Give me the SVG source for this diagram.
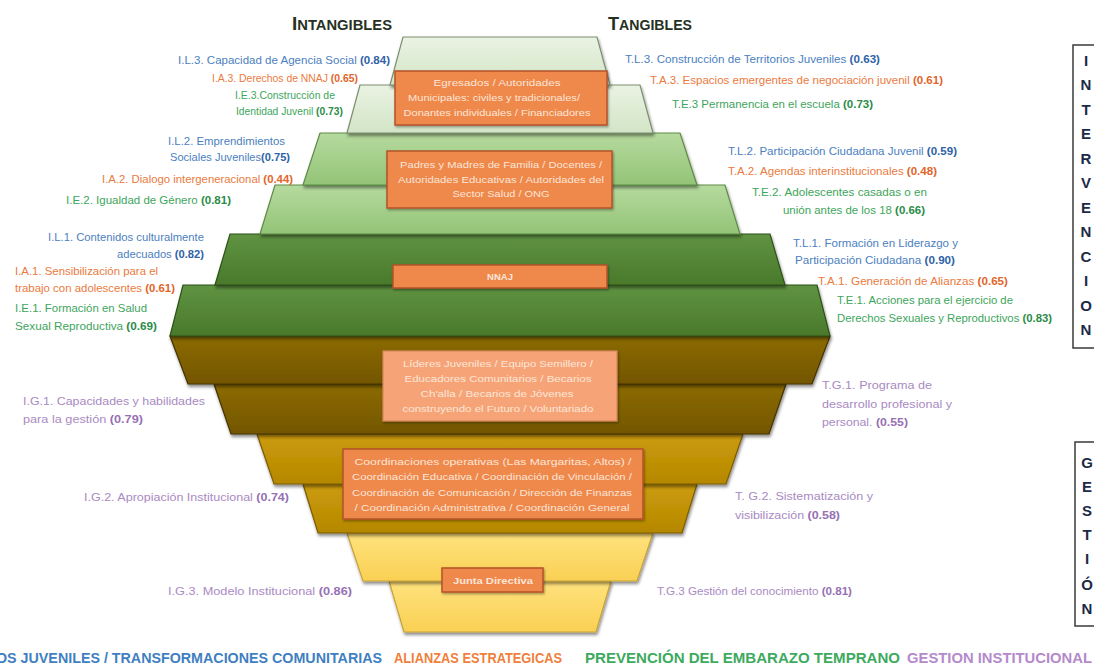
<svg xmlns="http://www.w3.org/2000/svg" width="1094" height="667" viewBox="0 0 1094 667">
<defs>
<linearGradient id="g1" x1="0" y1="0" x2="0" y2="1"><stop offset="0" stop-color="#EAF3E3"/><stop offset="1" stop-color="#D2E4C6"/></linearGradient>
<linearGradient id="g2" x1="0" y1="0" x2="0" y2="1"><stop offset="0" stop-color="#B6DA9E"/><stop offset="1" stop-color="#93C477"/></linearGradient>
<linearGradient id="g3" x1="0" y1="0" x2="0" y2="1"><stop offset="0" stop-color="#5F9342"/><stop offset="1" stop-color="#4A792B"/></linearGradient>
<linearGradient id="g4" x1="0" y1="0" x2="0" y2="1"><stop offset="0" stop-color="#8C6B06"/><stop offset="1" stop-color="#735600"/></linearGradient>
<linearGradient id="g5" x1="0" y1="0" x2="0" y2="1"><stop offset="0" stop-color="#CC9C0C"/><stop offset="1" stop-color="#B58700"/></linearGradient>
<linearGradient id="g6" x1="0" y1="0" x2="0" y2="1"><stop offset="0" stop-color="#FFE27E"/><stop offset="1" stop-color="#F9D053"/></linearGradient>
<filter id="sh" x="-10%" y="-20%" width="120%" height="150%"><feDropShadow dx="1" dy="2.5" stdDeviation="1.6" flood-color="#000" flood-opacity="0.45"/></filter>
<filter id="bsh" x="-10%" y="-20%" width="120%" height="150%"><feDropShadow dx="1" dy="1.5" stdDeviation="1" flood-color="#000" flood-opacity="0.35"/></filter>
<style>
.t1{fill:url(#g1);stroke:#7D8F70;stroke-width:1.2}
.t2{fill:url(#g2);stroke:#5F8B46;stroke-width:1.2}
.t3{fill:url(#g3);stroke:#2E5118;stroke-width:1.2}
.t4{fill:url(#g4);stroke:#453300;stroke-width:1.2}
.t5{fill:url(#g5);stroke:#7A5C00;stroke-width:1.2}
.t6{fill:url(#g6);stroke:#C7A23A;stroke-width:1.2}
.lay{filter:url(#sh)}
.box{fill:#EF884C;stroke:#B5532A;stroke-width:1.5;filter:url(#bsh)}
.boxl{fill:#F6A477;stroke:#D9875A;stroke-width:1.2;filter:url(#bsh)}
.bt{font-family:"Liberation Sans",Arial,sans-serif;font-size:9.5px;fill:#FCE6D8;text-anchor:middle}
.lbl{font-family:"Liberation Sans",Arial,sans-serif;font-size:10.5px}
.b{font-weight:bold}
.blue{fill:#4C80C0}.blue .b{fill:#2F62A6}
.org{fill:#EA7A40}.org .b{fill:#E2652A}
.grn{fill:#3DA55C}.grn .b{fill:#2B8C47}
.pur{fill:#A98AC2}.pur .b{fill:#9670B4}
.hdr{font-family:"Liberation Sans",Arial,sans-serif;font-weight:bold;fill:#263022}
.vt{font-family:"Liberation Sans",Arial,sans-serif;font-weight:bold;font-size:15px;fill:#1C2A47;text-anchor:middle}
.leg{font-family:"Liberation Sans Narrow","Liberation Sans",Arial,sans-serif;font-weight:bold;font-size:15px}
</style>
</defs>
<rect width="1094" height="667" fill="#FFFFFF"/>

<g id="pyramid">
<polygon id="layer6b" class="lay t6" points="389,581 611,581 596,632 404,632"/>
<polygon id="layer6a" class="lay t6" points="347,533 653,533 637,581 363,581"/>
<polygon id="layer5b" class="lay t5" points="303,484 697,484 682,533 318,533"/>
<polygon id="layer5a" class="lay t5" points="257,434 743,434 726,484 274,484"/>
<polygon id="layer4b" class="lay t4" points="214,384 786,384 769,434 231,434"/>
<polygon id="layer4a" class="lay t4" points="170,336 830,336 812,384 188,384"/>
<polygon id="layer3b" class="lay t3" points="183,285 817,285 830,336 170,336"/>
<polygon id="layer3a" class="lay t3" points="230,234 770,234 785,285 215,285"/>
<polygon id="layer2b" class="lay t2" points="275,185 725,185 740,234 260,234"/>
<polygon id="layer2a" class="lay t2" points="320,133 680,133 697,185 303,185"/>
<polygon id="layer1b" class="lay t1" points="360,85 640,85 653,133 347,133"/>
<polygon id="layer1a" class="lay t1" points="403,37 597,37 610,85 390,85"/>
</g>

<g id="box-egresados">
<rect class="box" x="395" y="71" width="212" height="54"/>
<text class="bt" x="497" y="86" textLength="127" lengthAdjust="spacingAndGlyphs">Egresados / Autoridades</text>
<text class="bt" x="494" y="101" textLength="172" lengthAdjust="spacingAndGlyphs">Municipales: civiles y tradicionales/</text>
<text class="bt" x="497" y="116" textLength="187" lengthAdjust="spacingAndGlyphs">Donantes individuales / Financiadores</text>
</g>
<g id="box-padres">
<rect class="box" x="387" y="151" width="225" height="57"/>
<text class="bt" x="501" y="168" textLength="202" lengthAdjust="spacingAndGlyphs">Padres y Madres de Familia / Docentes /</text>
<text class="bt" x="501" y="183" textLength="206" lengthAdjust="spacingAndGlyphs">Autoridades Educativas / Autoridades del</text>
<text class="bt" x="501" y="197" textLength="97" lengthAdjust="spacingAndGlyphs">Sector Salud / ONG</text>
</g>
<g id="box-nnaj">
<rect class="box" x="393" y="265" width="214" height="23"/>
<text class="bt b" x="500" y="280">NNAJ</text>
</g>
<g id="box-lideres">
<rect class="boxl" x="383" y="351" width="234" height="70"/>
<text class="bt" x="498" y="367" textLength="190" lengthAdjust="spacingAndGlyphs">Líderes Juveniles / Equipo Semillero /</text>
<text class="bt" x="498" y="382" textLength="187" lengthAdjust="spacingAndGlyphs">Educadores Comunitarios / Becarios</text>
<text class="bt" x="497" y="397" textLength="153" lengthAdjust="spacingAndGlyphs">Ch'alla / Becarios de Jóvenes</text>
<text class="bt" x="498" y="412" textLength="191" lengthAdjust="spacingAndGlyphs">construyendo el Futuro / Voluntariado</text>
</g>
<g id="box-coordinaciones">
<rect class="box" x="343" y="449" width="300" height="70"/>
<text class="bt" x="493" y="465" textLength="277" lengthAdjust="spacingAndGlyphs">Coordinaciones operativas (Las Margaritas, Altos) /</text>
<text class="bt" x="492" y="480" textLength="280" lengthAdjust="spacingAndGlyphs">Coordinación Educativa / Coordinación de Vinculación /</text>
<text class="bt" x="492" y="496" textLength="280" lengthAdjust="spacingAndGlyphs">Coordinación de Comunicación / Dirección de Finanzas</text>
<text class="bt" x="492" y="511" textLength="275" lengthAdjust="spacingAndGlyphs">/ Coordinación Administrativa / Coordinación General</text>
</g>
<g id="box-junta">
<rect class="box" x="442" y="568" width="101" height="24"/>
<text class="bt b" x="493" y="584" textLength="80" lengthAdjust="spacingAndGlyphs">Junta Directiva</text>
</g>

<g id="headers">
<text class="hdr" x="292" y="30" textLength="100" lengthAdjust="spacingAndGlyphs"><tspan font-size="18">I</tspan><tspan font-size="14">NTANGIBLES</tspan></text>
<text class="hdr" x="608" y="30" textLength="84" lengthAdjust="spacingAndGlyphs"><tspan font-size="18">T</tspan><tspan font-size="14">ANGIBLES</tspan></text>
</g>

<g id="labels-left">
<text class="lbl blue" x="178" y="64" textLength="212" lengthAdjust="spacingAndGlyphs">I.L.3. Capacidad de Agencia Social <tspan class="b">(0.84)</tspan></text>
<text class="lbl org" x="212" y="82" textLength="146" lengthAdjust="spacingAndGlyphs">I.A.3. Derechos de NNAJ <tspan class="b">(0.65)</tspan></text>
<text class="lbl grn" x="235" y="99" textLength="100" lengthAdjust="spacingAndGlyphs">I.E.3.Construcción de</text>
<text class="lbl grn" x="236" y="115" textLength="107" lengthAdjust="spacingAndGlyphs">Identidad Juvenil <tspan class="b">(0.73)</tspan></text>

<text class="lbl blue" x="168" y="145" textLength="117" lengthAdjust="spacingAndGlyphs">I.L.2. Emprendimientos</text>
<text class="lbl blue" x="170" y="161" textLength="120" lengthAdjust="spacingAndGlyphs">Sociales Juveniles<tspan class="b">(0.75)</tspan></text>
<text class="lbl org" x="102" y="183" textLength="191" lengthAdjust="spacingAndGlyphs">I.A.2. Dialogo intergeneracional <tspan class="b">(0.44)</tspan></text>
<text class="lbl grn" x="66" y="204" textLength="165" lengthAdjust="spacingAndGlyphs">I.E.2. Igualdad de Género <tspan class="b">(0.81)</tspan></text>

<text class="lbl blue" x="48" y="241" textLength="156" lengthAdjust="spacingAndGlyphs">I.L.1. Contenidos culturalmente</text>
<text class="lbl blue" x="117" y="258" textLength="87" lengthAdjust="spacingAndGlyphs">adecuados <tspan class="b">(0.82)</tspan></text>
<text class="lbl org" x="15" y="275" textLength="143" lengthAdjust="spacingAndGlyphs">I.A.1. Sensibilización para el</text>
<text class="lbl org" x="15" y="292" textLength="160" lengthAdjust="spacingAndGlyphs">trabajo con adolescentes <tspan class="b">(0.61)</tspan></text>
<text class="lbl grn" x="15" y="312" textLength="132" lengthAdjust="spacingAndGlyphs">I.E.1. Formación en Salud</text>
<text class="lbl grn" x="15" y="330" textLength="142" lengthAdjust="spacingAndGlyphs">Sexual Reproductiva <tspan class="b">(0.69)</tspan></text>

<text class="lbl pur" x="23" y="405" textLength="182" lengthAdjust="spacingAndGlyphs">I.G.1. Capacidades y habilidades</text>
<text class="lbl pur" x="23" y="423" textLength="120" lengthAdjust="spacingAndGlyphs">para la gestión <tspan class="b">(0.79)</tspan></text>
<text class="lbl pur" x="84" y="501" textLength="205" lengthAdjust="spacingAndGlyphs">I.G.2. Apropiación Institucional <tspan class="b">(0.74)</tspan></text>
<text class="lbl pur" x="168" y="595" textLength="184" lengthAdjust="spacingAndGlyphs">I.G.3. Modelo Institucional <tspan class="b">(0.86)</tspan></text>
</g>

<g id="labels-right">
<text class="lbl blue" x="625" y="63" textLength="255" lengthAdjust="spacingAndGlyphs">T.L.3. Construcción de Territorios Juveniles <tspan class="b">(0.63)</tspan></text>
<text class="lbl org" x="650" y="84" textLength="293" lengthAdjust="spacingAndGlyphs">T.A.3. Espacios emergentes de negociación juvenil <tspan class="b">(0.61)</tspan></text>
<text class="lbl grn" x="672" y="108" textLength="201" lengthAdjust="spacingAndGlyphs">T.E.3 Permanencia en el escuela <tspan class="b">(0.73)</tspan></text>

<text class="lbl blue" x="728" y="155" textLength="229" lengthAdjust="spacingAndGlyphs">T.L.2. Participación Ciudadana Juvenil <tspan class="b">(0.59)</tspan></text>
<text class="lbl org" x="728" y="175" textLength="209" lengthAdjust="spacingAndGlyphs">T.A.2. Agendas interinstitucionales <tspan class="b">(0.48)</tspan></text>
<text class="lbl grn" x="752" y="196" textLength="175" lengthAdjust="spacingAndGlyphs">T.E.2. Adolescentes casadas o en</text>
<text class="lbl grn" x="783" y="214" textLength="142" lengthAdjust="spacingAndGlyphs">unión antes de los 18 <tspan class="b">(0.66)</tspan></text>

<text class="lbl blue" x="793" y="247" textLength="165" lengthAdjust="spacingAndGlyphs">T.L.1. Formación en Liderazgo y</text>
<text class="lbl blue" x="795" y="264" textLength="160" lengthAdjust="spacingAndGlyphs">Participación Ciudadana <tspan class="b">(0.90)</tspan></text>
<text class="lbl org" x="818" y="285" textLength="190" lengthAdjust="spacingAndGlyphs">T.A.1. Generación de Alianzas <tspan class="b">(0.65)</tspan></text>
<text class="lbl grn" x="837" y="304" textLength="176" lengthAdjust="spacingAndGlyphs">T.E.1. Acciones para el ejercicio de</text>
<text class="lbl grn" x="837" y="322" textLength="215" lengthAdjust="spacingAndGlyphs">Derechos Sexuales y Reproductivos <tspan class="b">(0.83)</tspan></text>

<text class="lbl pur" x="822" y="389" textLength="110" lengthAdjust="spacingAndGlyphs">T.G.1. Programa de</text>
<text class="lbl pur" x="822" y="408" textLength="130" lengthAdjust="spacingAndGlyphs">desarrollo profesional y</text>
<text class="lbl pur" x="822" y="426" textLength="86" lengthAdjust="spacingAndGlyphs">personal. <tspan class="b">(0.55)</tspan></text>
<text class="lbl pur" x="735" y="500" textLength="138" lengthAdjust="spacingAndGlyphs">T. G.2. Sistematización y</text>
<text class="lbl pur" x="735" y="519" textLength="105" lengthAdjust="spacingAndGlyphs">visibilización <tspan class="b">(0.58)</tspan></text>
<text class="lbl pur" x="657" y="595" textLength="195" lengthAdjust="spacingAndGlyphs">T.G.3 Gestión del conocimiento <tspan class="b">(0.81)</tspan></text>
</g>

<g id="side-intervencion">
<rect x="1073" y="45" width="30" height="303" fill="#FFFFFF" stroke="#3A3A3A" stroke-width="1.5"/>
<text class="vt" x="1086" y="66">I</text>
<text class="vt" x="1086" y="90">N</text>
<text class="vt" x="1086" y="115">T</text>
<text class="vt" x="1086" y="139">E</text>
<text class="vt" x="1086" y="164">R</text>
<text class="vt" x="1086" y="188">V</text>
<text class="vt" x="1086" y="213">E</text>
<text class="vt" x="1086" y="237">N</text>
<text class="vt" x="1086" y="262">C</text>
<text class="vt" x="1086" y="286">I</text>
<text class="vt" x="1086" y="311">O</text>
<text class="vt" x="1086" y="335">N</text>
</g>
<g id="side-gestion">
<rect x="1075" y="442" width="30" height="184" fill="#FFFFFF" stroke="#3A3A3A" stroke-width="1.5"/>
<text class="vt" x="1087" y="468">G</text>
<text class="vt" x="1087" y="492">E</text>
<text class="vt" x="1087" y="516">S</text>
<text class="vt" x="1087" y="540">T</text>
<text class="vt" x="1087" y="564">I</text>
<text class="vt" x="1087" y="590">Ó</text>
<text class="vt" x="1087" y="614">N</text>
</g>

<g id="legend">
<text class="leg" x="-4" y="663" fill="#3F7FC2" textLength="386" lengthAdjust="spacingAndGlyphs">OS JUVENILES / TRANSFORMACIONES COMUNITARIAS</text>
<text class="leg" x="394" y="663" fill="#F07F3C" textLength="168" lengthAdjust="spacingAndGlyphs">ALIANZAS ESTRATEGICAS</text>
<text class="leg" x="585" y="663" fill="#3DAA5E" textLength="315" lengthAdjust="spacingAndGlyphs">PREVENCIÓN DEL EMBARAZO TEMPRANO</text>
<text class="leg" x="907" y="663" fill="#B48ACB" textLength="185" lengthAdjust="spacingAndGlyphs">GESTION INSTITUCIONAL</text>
</g>
</svg>
